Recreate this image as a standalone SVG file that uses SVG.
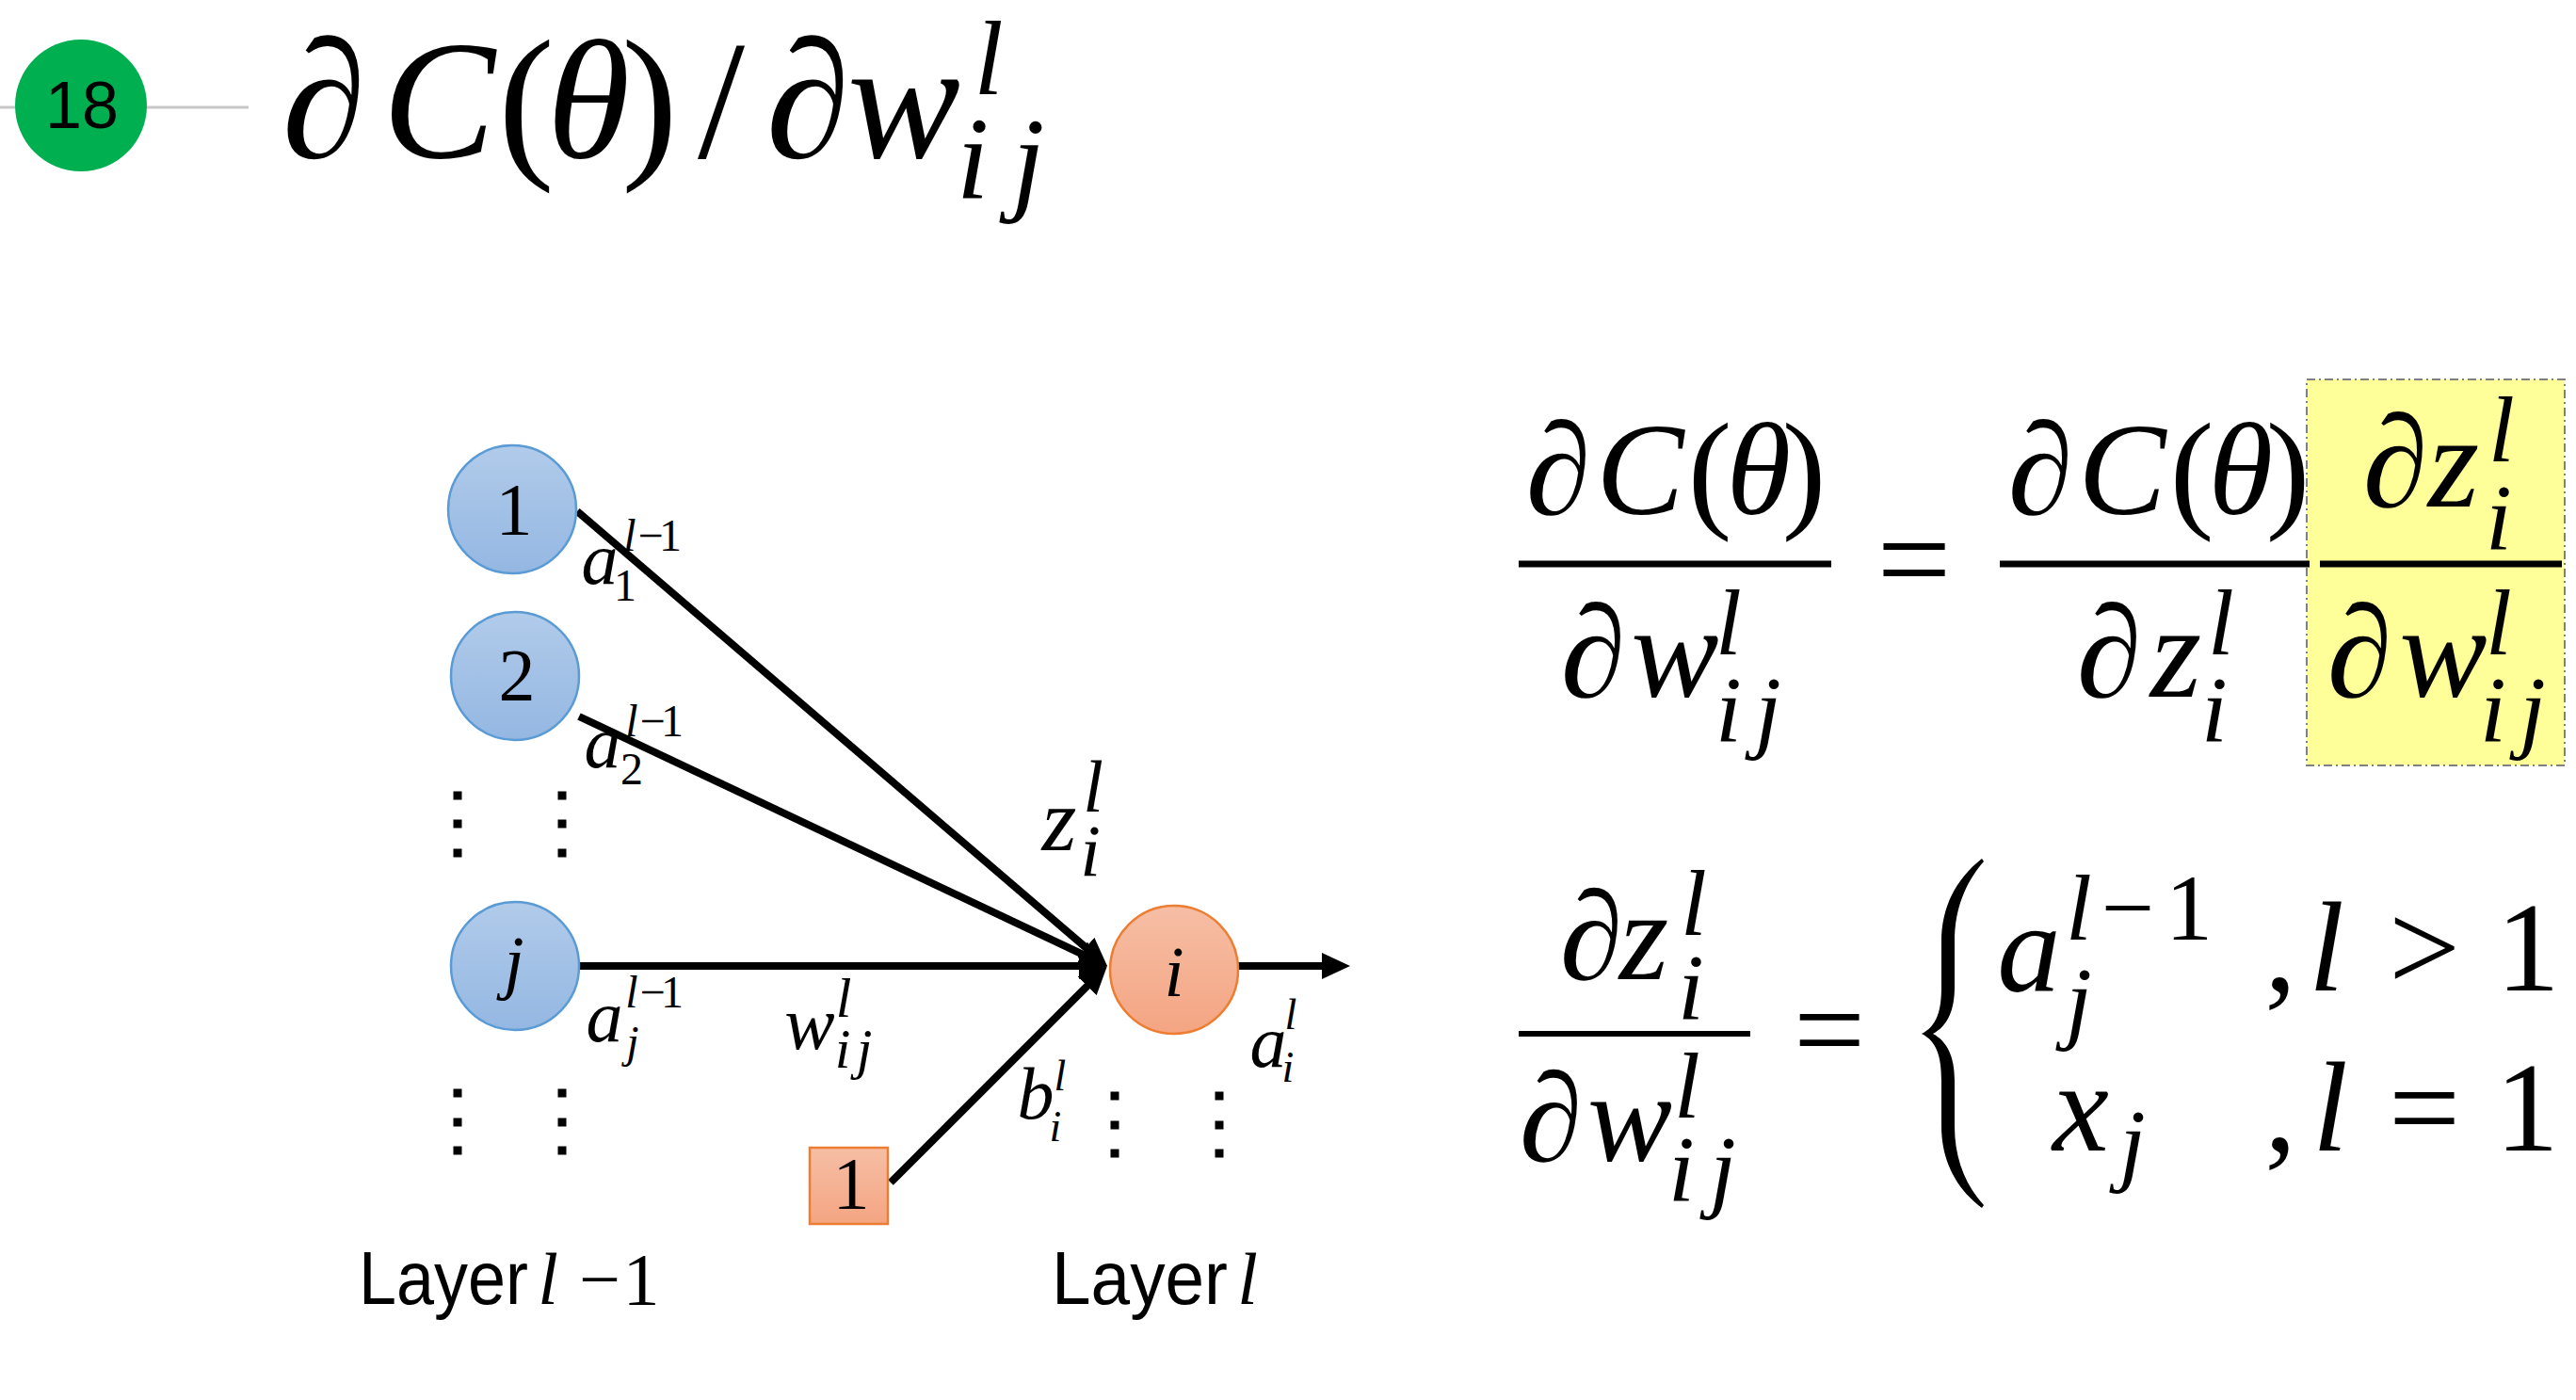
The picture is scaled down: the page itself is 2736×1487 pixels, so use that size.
<svg xmlns="http://www.w3.org/2000/svg" width="2736" height="1487" viewBox="0 0 2736 1487">
<style>
.m{font-family:"Liberation Serif","DejaVu Serif",serif;font-style:italic;fill:#000;text-anchor:middle}
.u{font-family:"Liberation Serif","DejaVu Serif",serif;font-style:normal;fill:#000;text-anchor:middle}
.s{font-family:"Liberation Sans",Arial,sans-serif;fill:#000}
.conn{stroke:#000;stroke-width:8;fill:none;marker-end:url(#ah)}
.blue{fill:url(#gb);stroke:#5b9bd5;stroke-width:2.5}
.orange{fill:url(#go);stroke:#ed7d31;stroke-width:2.5}
.dot{fill:#000}
.bar{fill:#000}
</style>
<defs>
<linearGradient id="gb" x1="0" y1="0" x2="0" y2="1"><stop offset="0" stop-color="#b1cbea"/><stop offset="1" stop-color="#94b7e2"/></linearGradient>
<linearGradient id="go" x1="0" y1="0" x2="0" y2="1"><stop offset="0" stop-color="#f6bea5"/><stop offset="1" stop-color="#f4a582"/></linearGradient>
<marker id="ah" markerUnits="userSpaceOnUse" viewBox="0 0 30 28" markerWidth="30" markerHeight="28" refX="8" refY="14" orient="auto"><path d="M0,0 L30,14 L0,28 z" fill="#000"/></marker>
</defs>
<rect width="2736" height="1487" fill="#fff"/>

<!-- slide number -->
<g id="slide-number">
<line x1="0" y1="114" x2="264" y2="114" stroke="#c8c8c8" stroke-width="3"/>
<circle cx="86" cy="112" r="70" fill="#00b050"/>
<text class="s" x="87" y="136" font-size="70" text-anchor="middle">18</text>
</g>

<!-- title -->
<g id="title">
<text class="m" x="344" y="167" font-size="180">∂</text>
<text class="m" x="466" y="167" font-size="180">C</text>
<text class="u" x="559" y="167" font-size="180">(</text>
<text class="m" x="625" y="167" font-size="180">θ</text>
<text class="u" x="690" y="167" font-size="180">)</text>
<text class="u" x="766" y="167" font-size="180">/</text>
<text class="m" x="858" y="167" font-size="180">∂</text>
<text class="m" x="960" y="167" font-size="180">w</text>
<text class="m" x="1050" y="100" font-size="112">l</text>
<text class="m" x="1033" y="211" font-size="125">i</text>
<text class="m" x="1092" y="211" font-size="125">j</text>
</g>

<!-- connectors -->
<g id="connectors">
<line class="conn" x1="613" y1="543" x2="1159.3" y2="1011.6"/>
<line class="conn" x1="615" y1="761" x2="1156.1" y2="1016.6"/>
<line class="conn" x1="612" y1="1026" x2="1154" y2="1026"/>
<line class="conn" x1="946" y1="1256" x2="1160.4" y2="1041.6"/>
<line class="conn" x1="1315" y1="1026" x2="1412" y2="1026"/>
</g>

<!-- nodes -->
<g id="node-1"><circle class="blue" cx="544" cy="541" r="68"/><text class="u" x="546" y="567" font-size="78">1</text></g>
<g id="node-2"><circle class="blue" cx="547" cy="718" r="68"/><text class="u" x="549" y="743" font-size="78">2</text></g>
<g id="node-j"><circle class="blue" cx="547" cy="1026" r="68"/><text class="m" x="546" y="1047" font-size="76">j</text></g>
<g id="node-i"><circle class="orange" cx="1247" cy="1030" r="68"/><text class="m" x="1247" y="1058" font-size="76">i</text></g>
<g id="node-bias"><rect class="orange" x="860" y="1219" width="83" height="81"/><text class="u" x="904" y="1283" font-size="78">1</text></g>

<!-- edge labels -->
<g id="label-a1">
<text class="m" x="637" y="620" font-size="78">a</text>
<text class="u" x="664" y="638" font-size="48">1</text>
<text class="m" x="669" y="585" font-size="48">l</text>
<text class="u" x="691" y="585" font-size="48">−</text>
<text class="u" x="712" y="585" font-size="48">1</text>
</g>
<g id="label-a2">
<text class="m" x="640" y="815" font-size="78">a</text>
<text class="u" x="671" y="833" font-size="48">2</text>
<text class="m" x="671" y="782" font-size="48">l</text>
<text class="u" x="693" y="782" font-size="48">−</text>
<text class="u" x="714" y="782" font-size="48">1</text>
</g>
<g id="label-aj">
<text class="m" x="642" y="1106" font-size="78">a</text>
<text class="m" x="672" y="1123" font-size="48">j</text>
<text class="m" x="671" y="1070" font-size="48">l</text>
<text class="u" x="693" y="1070" font-size="48">−</text>
<text class="u" x="714" y="1070" font-size="48">1</text>
</g>
<g id="label-wij">
<text class="m" x="860" y="1114" font-size="80">w</text>
<text class="m" x="896" y="1080" font-size="60">l</text>
<text class="m" x="895" y="1134" font-size="60">i</text>
<text class="m" x="918" y="1134" font-size="60">j</text>
</g>
<g id="label-zi">
<text class="m" x="1125" y="903" font-size="95">z</text>
<text class="m" x="1161" y="862" font-size="78">l</text>
<text class="m" x="1158" y="930" font-size="78">i</text>
</g>
<g id="label-bi">
<text class="m" x="1100" y="1188" font-size="78">b</text>
<text class="m" x="1126" y="1158" font-size="46">l</text>
<text class="m" x="1121" y="1212" font-size="46">i</text>
</g>
<g id="label-ai">
<text class="m" x="1347" y="1133" font-size="78">a</text>
<text class="m" x="1371" y="1093" font-size="46">l</text>
<text class="m" x="1368" y="1149" font-size="46">i</text>
</g>

<!-- ellipsis dots -->
<g id="dots">
<rect class="dot" x="481.5" y="840.5" width="9" height="9"/><rect class="dot" x="481.5" y="870.5" width="9" height="9"/><rect class="dot" x="481.5" y="901.5" width="9" height="9"/>
<rect class="dot" x="592.5" y="840.5" width="9" height="9"/><rect class="dot" x="592.5" y="870.5" width="9" height="9"/><rect class="dot" x="592.5" y="901.5" width="9" height="9"/>
<rect class="dot" x="481.5" y="1156.5" width="9" height="9"/><rect class="dot" x="481.5" y="1187.5" width="9" height="9"/><rect class="dot" x="481.5" y="1217.5" width="9" height="9"/>
<rect class="dot" x="592.5" y="1156.5" width="9" height="9"/><rect class="dot" x="592.5" y="1187.5" width="9" height="9"/><rect class="dot" x="592.5" y="1217.5" width="9" height="9"/>
<rect class="dot" x="1179.5" y="1159.5" width="9" height="9"/><rect class="dot" x="1179.5" y="1190.5" width="9" height="9"/><rect class="dot" x="1179.5" y="1220.5" width="9" height="9"/>
<rect class="dot" x="1290.5" y="1159.5" width="9" height="9"/><rect class="dot" x="1290.5" y="1190.5" width="9" height="9"/><rect class="dot" x="1290.5" y="1220.5" width="9" height="9"/>
</g>

<!-- layer labels -->
<g id="layer-prev">
<text class="s" x="381" y="1385" font-size="80" textLength="180" lengthAdjust="spacingAndGlyphs">Layer</text>
<text class="m" x="582" y="1385" font-size="78">l</text>
<text class="u" x="637" y="1385" font-size="78">−</text>
<text class="u" x="681" y="1385" font-size="78">1</text>
</g>
<g id="layer-cur">
<text class="s" x="1117" y="1385" font-size="80" textLength="187" lengthAdjust="spacingAndGlyphs">Layer</text>
<text class="m" x="1325" y="1385" font-size="78">l</text>
</g>

<!-- equation 1 -->
<g id="eq-chain">
<rect x="2450" y="403" width="274" height="410" fill="#ffff99" stroke="#808080" stroke-width="2" stroke-dasharray="9,4,2,4"/>
<text class="m" x="1655" y="546" font-size="140">∂</text>
<text class="m" x="1742" y="546" font-size="140">C</text>
<text class="u" x="1816" y="546" font-size="140">(</text>
<text class="m" x="1868" y="546" font-size="140">θ</text>
<text class="u" x="1916" y="546" font-size="140">)</text>
<rect class="bar" x="1613" y="595.5" width="332" height="7"/>
<text class="m" x="1692" y="740" font-size="140">∂</text>
<text class="m" x="1779" y="740" font-size="140">w</text>
<text class="m" x="1836" y="695" font-size="100">l</text>
<text class="m" x="1836" y="787" font-size="100">i</text>
<text class="m" x="1878" y="787" font-size="100">j</text>
<text class="u" x="2033" y="641" font-size="140">=</text>
<text class="m" x="2167" y="546" font-size="140">∂</text>
<text class="m" x="2254" y="546" font-size="140">C</text>
<text class="u" x="2328" y="546" font-size="140">(</text>
<text class="m" x="2380" y="546" font-size="140">θ</text>
<text class="u" x="2430" y="546" font-size="140">)</text>
<rect class="bar" x="2124" y="595.5" width="329" height="7"/>
<text class="m" x="2240" y="740" font-size="140">∂</text>
<text class="m" x="2311" y="740" font-size="140">z</text>
<text class="m" x="2359" y="695" font-size="100">l</text>
<text class="m" x="2352" y="787" font-size="100">i</text>
<text class="m" x="2544" y="538" font-size="140">∂</text>
<text class="m" x="2606" y="538" font-size="140">z</text>
<text class="m" x="2657" y="490" font-size="100">l</text>
<text class="m" x="2654" y="583" font-size="100">i</text>
<rect class="bar" x="2464" y="595.5" width="257" height="7"/>
<text class="m" x="2506" y="740" font-size="140">∂</text>
<text class="m" x="2595" y="740" font-size="140">w</text>
<text class="m" x="2654" y="695" font-size="100">l</text>
<text class="m" x="2648" y="787" font-size="100">i</text>
<text class="m" x="2690" y="787" font-size="100">j</text>
</g>

<!-- equation 2 -->
<g id="eq-cases">
<text class="m" x="1690" y="1040" font-size="135">∂</text>
<text class="m" x="1746" y="1040" font-size="135">z</text>
<text class="m" x="1799" y="993" font-size="100">l</text>
<text class="m" x="1796" y="1082" font-size="100">i</text>
<rect class="bar" x="1613" y="1095" width="246" height="6"/>
<text class="m" x="1647" y="1233" font-size="135">∂</text>
<text class="m" x="1731" y="1233" font-size="135">w</text>
<text class="m" x="1792" y="1187" font-size="100">l</text>
<text class="m" x="1786" y="1275" font-size="100">i</text>
<text class="m" x="1830" y="1275" font-size="100">j</text>
<text class="u" x="1943" y="1139" font-size="135">=</text>
<path d="M2105,912 C2077,934 2062,964 2062,1000 L2062,1048 C2062,1074 2057,1090 2041,1098 C2057,1106 2062,1122 2062,1148 L2062,1196 C2062,1232 2077,1262 2105,1283 L2107,1280 C2087,1258 2076,1230 2076,1196 L2076,1148 C2076,1122 2068,1106 2053,1098 C2068,1090 2076,1074 2076,1048 L2076,1000 C2076,966 2087,938 2107,915 Z" fill="#000"/>
<text class="m" x="2155" y="1053" font-size="135">a</text>
<text class="m" x="2208" y="1096" font-size="100">j</text>
<text class="m" x="2208" y="998" font-size="100">l</text>
<text class="u" x="2260" y="998" font-size="100">−</text>
<text class="u" x="2325" y="998" font-size="100">1</text>
<text class="u" x="2422" y="1052" font-size="135">,</text>
<text class="m" x="2471" y="1052" font-size="135">l</text>
<text class="u" x="2575" y="1052" font-size="135">&gt;</text>
<text class="u" x="2685" y="1052" font-size="135">1</text>
<text class="m" x="2210" y="1222" font-size="135">x</text>
<text class="m" x="2265" y="1247" font-size="100">j</text>
<text class="u" x="2422" y="1222" font-size="135">,</text>
<text class="m" x="2475" y="1222" font-size="135">l</text>
<text class="u" x="2575" y="1222" font-size="135">=</text>
<text class="u" x="2684" y="1222" font-size="135">1</text>
</g>
</svg>
